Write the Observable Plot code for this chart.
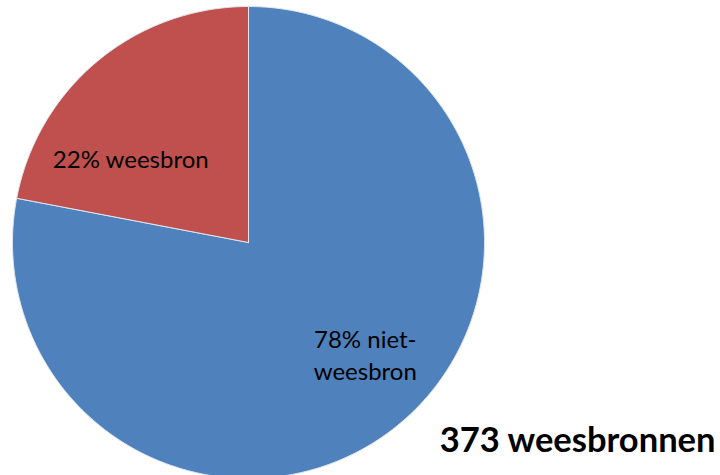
<!DOCTYPE html>
<html>
<head>
<meta charset="utf-8">
<script src="https://cdn.jsdelivr.net/npm/d3@7"></script>
<script src="https://cdn.jsdelivr.net/npm/@observablehq/plot@0.6"></script>
<style>
  html, body { margin: 0; padding: 0; background: #fff; }
  #chart { width: 720px; height: 475px; }
</style>
</head>
<body>
<div id="chart"></div>
<script>
const categories = ["78% niet-\nweesbron", "22% weesbron"];
const values = [78, 22];
const colors = ["#4F81BD", "#C0504D"];
const title = "373 weesbronnen";

const W = 720, H = 475;
const cx = 248, cy = 242, R = 236;

// build slices: start at top, clockwise
const total = d3.sum(values);
const slices = [];
let acc = 0;
values.forEach((v, i) => {
  const a0 = acc / total * 2 * Math.PI;
  acc += v;
  const a1 = acc / total * 2 * Math.PI;
  slices.push({cat: categories[i], a0, a1, mid: (a0 + a1) / 2});
});

const pts = [];
slices.forEach(s => {
  pts.push({cat: s.cat, x: 0, y: 0});
  const n = Math.max(2, Math.ceil((s.a1 - s.a0) / 0.01));
  for (let k = 0; k <= n; k++) {
    const a = s.a0 + (s.a1 - s.a0) * k / n;
    pts.push({cat: s.cat, x: Math.sin(a), y: -Math.cos(a)});
  }
  pts.push({cat: s.cat, x: 0, y: 0});
});

const labR = 0.61;
const lab = slices.map(s => ({cat: s.cat, x: labR * Math.sin(s.mid), y: -labR * Math.cos(s.mid)}));

const chart = Plot.plot({
  width: W, height: H,
  margin: 0,
  x: {domain: [-cx / R, (W - cx) / R], range: [0, W], axis: null},
  y: {domain: [-cy / R, (H - cy) / R], range: [0, H], axis: null},
  color: {domain: categories, range: colors},
  style: {fontFamily: "Lato, sans-serif", background: "#fff"},
  marks: [
    Plot.line(pts, {x: "x", y: "y", z: "cat", fill: "cat", stroke: "#dfe6f0", strokeWidth: 1, curve: "linear-closed"}),
    Plot.text(lab.filter(d => d.cat === categories[1]), {x: "x", y: "y", text: "cat", fontSize: 24, fill: "#000", dx: -26, dy: 29}),
    Plot.text(lab.filter(d => d.cat === categories[0]), {x: "x", y: "y", text: "cat", fontSize: 24, fill: "#000", lineHeight: 1.35, dx: 25, dy: 0}),
    Plot.text([title], {frameAnchor: "bottom-right", lineAnchor: "middle", text: d => d, fontSize: 34.5, fontWeight: "bold", fill: "#000", dx: -5, dy: -35})
  ]
});
document.getElementById("chart").appendChild(chart);
</script>
</body>
</html>
